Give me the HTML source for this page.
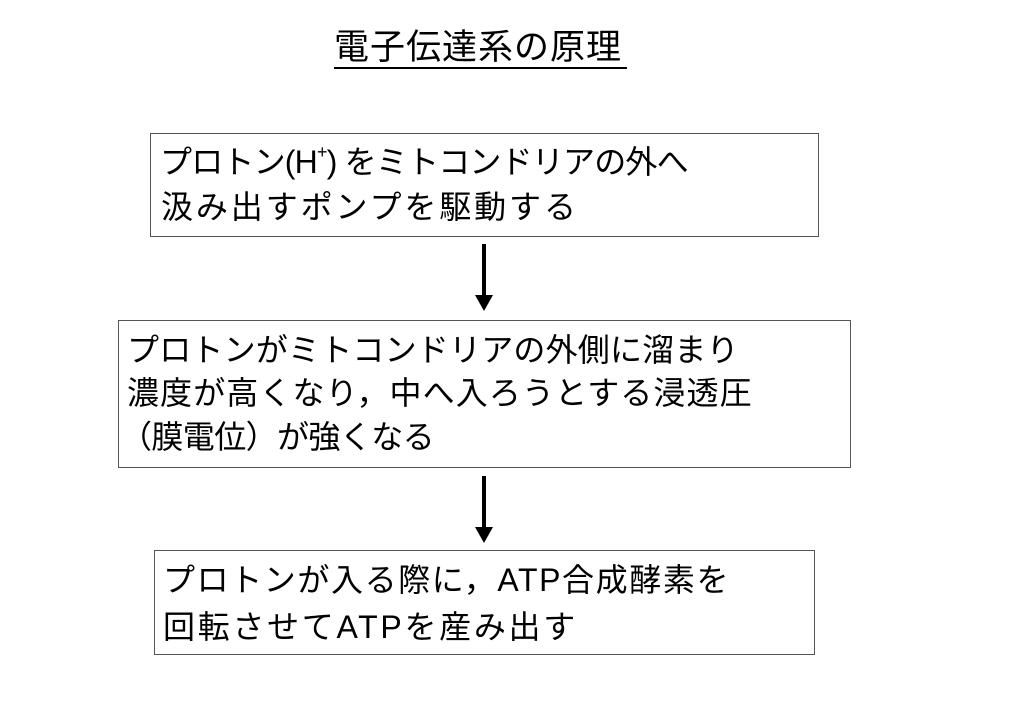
<!DOCTYPE html>
<html><head><meta charset="utf-8"><style>
body{margin:0;width:1023px;height:708px;background:#fff;position:relative;overflow:hidden;font-family:"Liberation Sans","Noto Sans CJK JP",sans-serif;color:#000}
.t{position:absolute;left:334px;top:28px;font-size:35px;line-height:40px;white-space:nowrap;letter-spacing:1px}
.u{position:absolute;left:334px;top:67px;width:293px;height:2px;background:#000}
.box{position:absolute;border:1px solid #555;box-sizing:border-box}
.l{position:absolute;font-size:32px;line-height:40px;white-space:nowrap}
.ar{position:absolute;left:482px;width:4px;background:#000}
.ah{position:absolute;left:475px;width:0;height:0;border-left:9px solid transparent;border-right:9px solid transparent;border-top:16px solid #000}
sup{font-size:18px;vertical-align:top;line-height:20px}
</style></head><body>
<div class="t">電子伝達系の原理</div><div class="u"></div>
<div class="box" style="left:150px;top:133px;width:669px;height:104px"></div>
<div class="l" style="left:160px;top:142px;letter-spacing:-0.8px">プロトン(H<sup>+</sup>) をミトコンドリアの外へ</div>
<div class="l" style="left:161px;top:187px;letter-spacing:2.9px">汲み出すポンプを駆動する</div>
<div class="ar" style="top:244px;height:52px"></div><div class="ah" style="top:295px"></div>
<div class="box" style="left:118px;top:320px;width:733px;height:148px"></div>
<div class="l" style="left:127px;top:330px;letter-spacing:0.2px">プロトンがミトコンドリアの外側に溜まり</div>
<div class="l" style="left:127px;top:373px;letter-spacing:1.1px">濃度が高くなり，中へ入ろうとする浸透圧</div>
<div class="l" style="left:120px;top:417px;letter-spacing:-0.6px">（膜電位）が強くなる</div>
<div class="ar" style="top:476px;height:52px"></div><div class="ah" style="top:527px"></div>
<div class="box" style="left:154px;top:550px;width:661px;height:105px"></div>
<div class="l" style="left:163px;top:560px;letter-spacing:1.6px">プロトンが入る際に，ATP合成酵素を</div>
<div class="l" style="left:163px;top:607px;letter-spacing:2.7px">回転させてATPを産み出す</div>
</body></html>
